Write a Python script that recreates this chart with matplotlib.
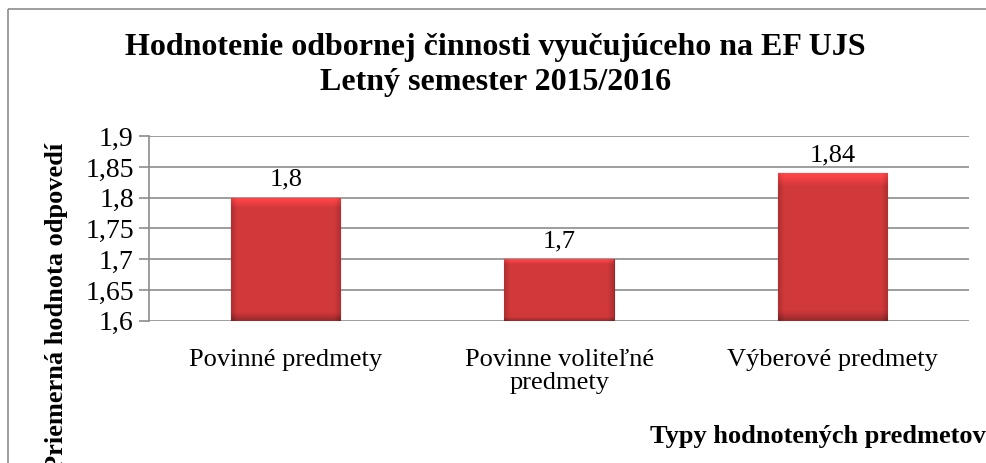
import matplotlib
matplotlib.use("Agg")
import matplotlib.pyplot as plt
import numpy as np
from matplotlib.ticker import FuncFormatter

categories = ["Povinné predmety", "Povinne voliteľné\npredmety", "Výberové predmety"]
values = [1.8, 1.7, 1.84]
value_labels = ["1,8", "1,7", "1,84"]
yticks = [1.6, 1.65, 1.7, 1.75, 1.8, 1.85, 1.9]

plt.rcParams["font.family"] = ["Liberation Serif", "DejaVu Serif"]

fig = plt.figure(figsize=(9.87, 4.63), dpi=100)
ax = fig.add_axes([0.151, 0.307, 0.831, 0.399])

x = np.arange(len(categories))
bars = ax.bar(x, values, width=0.4, bottom=0, color="#cc3a3c",
              edgecolor="#952628", linewidth=0.8, zorder=3)

# bevel-like shading on each bar
ny, nx = 60, 60
yy, xx = np.mgrid[0:ny, 0:nx]
dx = np.minimum(xx, nx - 1 - xx) / nx
dtop = yy / ny
dbot = (ny - 1 - yy) / ny
shade = np.ones((ny, nx))
shade += np.where(dtop < 0.08, 0.25 * (1 - dtop / 0.08), 0)
shade -= np.where(dbot < 0.06, 0.25 * (1 - dbot / 0.06), 0)
shade -= np.where(dx < 0.05, 0.15 * (1 - dx / 0.05), 0)
base = np.array([0.82, 0.22, 0.23])
img = np.clip(shade[..., None] * base, 0, 1)
for b in bars:
    x0, w, h = b.get_x(), b.get_width(), b.get_height()
    im = ax.imshow(img, extent=[x0, x0 + w, 1.6, h], aspect="auto",
                   zorder=4, origin="upper")
    im.set_clip_path(b)

for xi, v, lab in zip(x, values, value_labels):
    ax.text(xi, v + 0.011, lab, ha="center", va="bottom", fontsize=19, zorder=5)

ax.set_xlim(-0.5, 2.5)
ax.set_ylim(1.6, 1.9)
ax.set_yticks(yticks)
ax.yaxis.set_major_formatter(FuncFormatter(lambda v, p: f"{v:g}".replace(".", ",")))
ax.set_xticks(x)
ax.set_xticklabels(categories, fontsize=19, linespacing=1.1)
ax.tick_params(axis="y", labelsize=20, length=7, color="#8c8c8c", width=1.2, pad=4)
ax.tick_params(axis="x", length=0, pad=20)
ax.grid(axis="y", color="#8c8c8c", linewidth=1.2, zorder=0)
for s in ["top", "right", "bottom"]:
    ax.spines[s].set_visible(False)
ax.spines["left"].set_color("#8c8c8c")
ax.spines["left"].set_linewidth(1.2)

fig.text(0.502, 0.898, "Hodnotenie odbornej činnosti vyučujúceho na EF UJS",
         ha="center", va="center", fontsize=23, fontweight="bold")
fig.text(0.502, 0.822, "Letný semester 2015/2016",
         ha="center", va="center", fontsize=23, fontweight="bold")

fig.text(0.057, 1 - 143 / 463, "Priemerná hodnota odpovedí", rotation=90,
         ha="center", va="top", fontsize=19, fontweight="bold")
fig.text(650 / 987, 1 - 437 / 463, "Typy hodnotených predmetov",
         ha="left", va="center", fontsize=19, fontweight="bold")

# chart frame
fig.add_artist(plt.Line2D([8 / 987, 8 / 987], [0, 1 - 9 / 463],
                          transform=fig.transFigure, color="#8c8c8c",
                          linewidth=1.2, solid_capstyle="butt"))
fig.add_artist(plt.Line2D([8 / 987, 1.01], [1 - 9 / 463, 1 - 9 / 463],
                          transform=fig.transFigure, color="#8c8c8c",
                          linewidth=1.2, solid_capstyle="butt"))

fig.savefig("out.png", dpi=100)
